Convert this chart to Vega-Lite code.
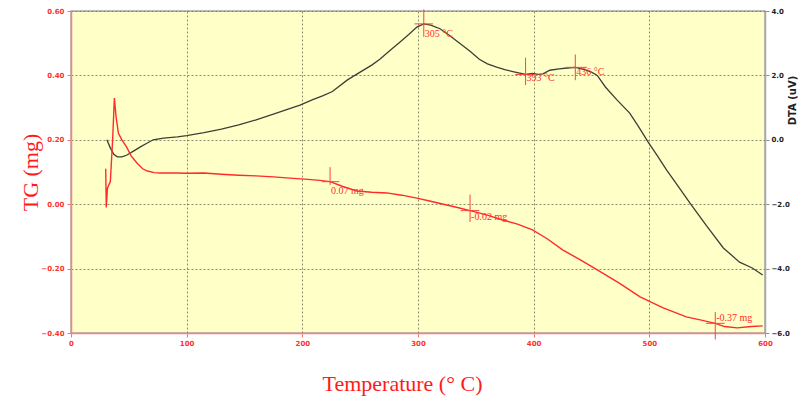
{
  "$schema": "https://vega.github.io/schema/vega-lite/v6.json",
  "autosize": {"type": "none"},
  "width": 694,
  "height": 322,
  "padding": {"left": 71, "top": 11, "right": 33, "bottom": 68},
  "background": "white",
  "config": {
    "view": {"fill": "#ffffc8", "stroke": "#a8a8a8", "strokeWidth": 1.5},
    "axis": {
      "labelFont": "DejaVu Sans", "labelFontSize": 7, "labelFontWeight": "bold",
      "tickSize": 4, "domainWidth": 1.5,
      "gridColor": "#6f6f5f", "gridDash": [2, 2], "gridOpacity": 0.8,
      "titleFontWeight": "normal"
    },
    "axisBottom": {
      "labelColor": "#ff3030", "tickColor": "#ff7070", "domainColor": "#ff8080",
      "labelPadding": 2, "labelFlush": false,
      "titleFont": "Liberation Serif", "titleFontSize": 22, "titleColor": "#ff1a1a",
      "titleX": 331, "titleY": 50, "titleBaseline": "middle"
    },
    "axisLeft": {
      "labelColor": "#ff3030", "tickColor": "#ff7070", "domainColor": "#ff8080",
      "labelPadding": 3,
      "titleFont": "Liberation Serif", "titleFontSize": 22, "titleColor": "#ff1a1a",
      "titleX": -41, "titleY": 161, "titleAlign": "center", "titleBaseline": "middle"
    },
    "axisRight": {
      "labelColor": "#222222", "tickColor": "#909090", "domainColor": "#a8a8a8",
      "labelPadding": 2,
      "titleFont": "DejaVu Sans", "titleFontSize": 10, "titleFontWeight": "bold", "titleColor": "#222222",
      "titleAngle": 270, "titleX": 27, "titleY": 89, "titleAlign": "center", "titleBaseline": "middle"
    }
  },
  "datasets": {
    "dta": [
      {"T": 31, "DTA": 0.0}, {"T": 34, "DTA": -0.25}, {"T": 37, "DTA": -0.45}, {"T": 40, "DTA": -0.53},
      {"T": 44, "DTA": -0.53}, {"T": 48, "DTA": -0.48}, {"T": 54, "DTA": -0.35}, {"T": 60, "DTA": -0.22},
      {"T": 66, "DTA": -0.1}, {"T": 71, "DTA": 0.0}, {"T": 80, "DTA": 0.05}, {"T": 92, "DTA": 0.09},
      {"T": 100, "DTA": 0.13}, {"T": 115, "DTA": 0.22}, {"T": 130, "DTA": 0.33}, {"T": 145, "DTA": 0.46},
      {"T": 160, "DTA": 0.62}, {"T": 175, "DTA": 0.8}, {"T": 189, "DTA": 0.97}, {"T": 198, "DTA": 1.08},
      {"T": 209, "DTA": 1.25}, {"T": 218, "DTA": 1.37}, {"T": 226, "DTA": 1.5}, {"T": 239, "DTA": 1.86},
      {"T": 250, "DTA": 2.1}, {"T": 260, "DTA": 2.32}, {"T": 267, "DTA": 2.5}, {"T": 275, "DTA": 2.75},
      {"T": 284, "DTA": 3.02}, {"T": 292, "DTA": 3.27}, {"T": 299, "DTA": 3.5}, {"T": 305, "DTA": 3.6},
      {"T": 311, "DTA": 3.56}, {"T": 319, "DTA": 3.45}, {"T": 327, "DTA": 3.25}, {"T": 336, "DTA": 3.0},
      {"T": 345, "DTA": 2.75}, {"T": 353, "DTA": 2.5}, {"T": 360, "DTA": 2.36}, {"T": 368, "DTA": 2.26},
      {"T": 375, "DTA": 2.18}, {"T": 382, "DTA": 2.12}, {"T": 388, "DTA": 2.07}, {"T": 393, "DTA": 2.03},
      {"T": 399, "DTA": 2.06}, {"T": 404, "DTA": 2.03}, {"T": 408, "DTA": 2.05}, {"T": 414, "DTA": 2.16},
      {"T": 422, "DTA": 2.2}, {"T": 429, "DTA": 2.23}, {"T": 436, "DTA": 2.25}, {"T": 444, "DTA": 2.18},
      {"T": 450, "DTA": 2.1}, {"T": 455, "DTA": 2.0}, {"T": 462, "DTA": 1.64}, {"T": 472, "DTA": 1.24},
      {"T": 483, "DTA": 0.83}, {"T": 490, "DTA": 0.45}, {"T": 499, "DTA": -0.07}, {"T": 507, "DTA": -0.5},
      {"T": 515, "DTA": -0.94}, {"T": 525, "DTA": -1.45}, {"T": 535, "DTA": -1.96}, {"T": 550, "DTA": -2.7},
      {"T": 564, "DTA": -3.36}, {"T": 578, "DTA": -3.8}, {"T": 589, "DTA": -3.98}, {"T": 598, "DTA": -4.2}
    ],
    "tg": [
      {"T": 30, "TG": 0.11}, {"T": 30.5, "TG": -0.01}, {"T": 31.5, "TG": 0.05}, {"T": 34, "TG": 0.07},
      {"T": 36, "TG": 0.2}, {"T": 37.5, "TG": 0.33}, {"T": 39, "TG": 0.27}, {"T": 41, "TG": 0.22},
      {"T": 44, "TG": 0.2}, {"T": 48, "TG": 0.178}, {"T": 52, "TG": 0.15}, {"T": 57, "TG": 0.128},
      {"T": 62, "TG": 0.11}, {"T": 66, "TG": 0.103}, {"T": 72, "TG": 0.098}, {"T": 77, "TG": 0.097},
      {"T": 92, "TG": 0.097}, {"T": 100, "TG": 0.096}, {"T": 115, "TG": 0.097}, {"T": 130, "TG": 0.093},
      {"T": 145, "TG": 0.09}, {"T": 160, "TG": 0.088}, {"T": 175, "TG": 0.085}, {"T": 189, "TG": 0.081},
      {"T": 205, "TG": 0.077}, {"T": 215, "TG": 0.074}, {"T": 224, "TG": 0.07}, {"T": 235, "TG": 0.055},
      {"T": 247, "TG": 0.041}, {"T": 260, "TG": 0.037}, {"T": 273, "TG": 0.035}, {"T": 286, "TG": 0.028},
      {"T": 299, "TG": 0.019}, {"T": 310, "TG": 0.01}, {"T": 322, "TG": 0.0}, {"T": 335, "TG": -0.011},
      {"T": 345, "TG": -0.02}, {"T": 360, "TG": -0.034}, {"T": 373, "TG": -0.049}, {"T": 386, "TG": -0.062},
      {"T": 399, "TG": -0.08}, {"T": 412, "TG": -0.108}, {"T": 425, "TG": -0.142}, {"T": 440, "TG": -0.172},
      {"T": 455, "TG": -0.204}, {"T": 474, "TG": -0.245}, {"T": 492, "TG": -0.288}, {"T": 512, "TG": -0.322},
      {"T": 532, "TG": -0.35}, {"T": 545, "TG": -0.36}, {"T": 557, "TG": -0.37}, {"T": 565, "TG": -0.38},
      {"T": 576, "TG": -0.384}, {"T": 588, "TG": -0.38}, {"T": 598, "TG": -0.378}
    ],
    "dtaTicks": [
      {"T": 305, "T2": 305, "DTA": 3.2, "DTA2": 4.05},
      {"T": 297, "T2": 313, "DTA": 3.6, "DTA2": 3.6},
      {"T": 393, "T2": 393, "DTA": 1.7, "DTA2": 2.55},
      {"T": 384, "T2": 401, "DTA": 2.03, "DTA2": 2.03},
      {"T": 436, "T2": 436, "DTA": 1.85, "DTA2": 2.65},
      {"T": 428, "T2": 446, "DTA": 2.25, "DTA2": 2.25}
    ],
    "dtaNotes": [
      {"T": 305, "DTA": 3.3, "label": "305 °C"},
      {"T": 393, "DTA": 1.93, "label": "393 °C"},
      {"T": 436, "DTA": 2.1, "label": "436 °C"}
    ],
    "tgTicks": [
      {"T": 224, "T2": 224, "TG": 0.06, "TG2": 0.115},
      {"T": 217, "T2": 232, "TG": 0.07, "TG2": 0.07},
      {"T": 345, "T2": 345, "TG": -0.055, "TG2": 0.03},
      {"T": 337, "T2": 353, "TG": -0.02, "TG2": -0.02},
      {"T": 557, "T2": 557, "TG": -0.42, "TG2": -0.335},
      {"T": 549, "T2": 565, "TG": -0.37, "TG2": -0.37}
    ],
    "tgNotes": [
      {"T": 224, "TG": 0.04, "label": "0.07 mg"},
      {"T": 345, "TG": -0.04, "label": "-0.02 mg"},
      {"T": 557, "TG": -0.352, "label": "-0.37 mg"}
    ]
  },
  "layer": [
    {
      "layer": [
        {
          "data": {"name": "dta"},
          "mark": {"type": "line", "color": "#3b4037", "strokeWidth": 1.3},
          "encoding": {
            "x": {"field": "T", "type": "quantitative", "scale": {"domain": [0, 600]},
                  "axis": {"values": [0, 100, 200, 300, 400, 500, 600], "format": "d", "title": "Temperature (° C)", "grid": true}},
            "y": {"field": "DTA", "type": "quantitative", "scale": {"domain": [-6, 4]},
                  "axis": {"orient": "right", "values": [-6, -4, -2, 0, 2, 4], "format": ".1f", "title": "DTA (uV)", "grid": false}}
          }
        },
        {
          "data": {"name": "dtaTicks"},
          "mark": {"type": "rule", "color": "#ff4040", "strokeWidth": 1},
          "encoding": {
            "x": {"field": "T", "type": "quantitative", "scale": {"domain": [0, 600]},
                  "axis": {"values": [0, 100, 200, 300, 400, 500, 600], "format": "d", "title": "Temperature (° C)", "grid": true}},
            "x2": {"field": "T2"},
            "y": {"field": "DTA", "type": "quantitative", "scale": {"domain": [-6, 4]},
                  "axis": {"orient": "right", "values": [-6, -4, -2, 0, 2, 4], "format": ".1f", "title": "DTA (uV)", "grid": false}},
            "y2": {"field": "DTA2"}
          }
        },
        {
          "data": {"name": "dtaNotes"},
          "mark": {"type": "text", "color": "#ff3030", "font": "Liberation Serif", "fontSize": 10, "align": "left", "baseline": "middle", "dx": 1},
          "encoding": {
            "x": {"field": "T", "type": "quantitative", "scale": {"domain": [0, 600]},
                  "axis": {"values": [0, 100, 200, 300, 400, 500, 600], "format": "d", "title": "Temperature (° C)", "grid": true}},
            "y": {"field": "DTA", "type": "quantitative", "scale": {"domain": [-6, 4]},
                  "axis": {"orient": "right", "values": [-6, -4, -2, 0, 2, 4], "format": ".1f", "title": "DTA (uV)", "grid": false}},
            "text": {"field": "label"}
          }
        }
      ]
    },
    {
      "layer": [
        {
          "data": {"name": "tg"},
          "mark": {"type": "line", "color": "#ff2a2a", "strokeWidth": 1.4},
          "encoding": {
            "x": {"field": "T", "type": "quantitative", "scale": {"domain": [0, 600]},
                  "axis": {"values": [0, 100, 200, 300, 400, 500, 600], "format": "d", "title": "Temperature (° C)", "grid": true}},
            "y": {"field": "TG", "type": "quantitative", "scale": {"domain": [-0.4, 0.6]},
                  "axis": {"orient": "left", "values": [-0.4, -0.2, 0, 0.2, 0.4, 0.6], "format": ".2f", "title": "TG (mg)", "grid": true}}
          }
        },
        {
          "data": {"name": "tgTicks"},
          "mark": {"type": "rule", "color": "#ff4040", "strokeWidth": 1},
          "encoding": {
            "x": {"field": "T", "type": "quantitative", "scale": {"domain": [0, 600]},
                  "axis": {"values": [0, 100, 200, 300, 400, 500, 600], "format": "d", "title": "Temperature (° C)", "grid": true}},
            "x2": {"field": "T2"},
            "y": {"field": "TG", "type": "quantitative", "scale": {"domain": [-0.4, 0.6]},
                  "axis": {"orient": "left", "values": [-0.4, -0.2, 0, 0.2, 0.4, 0.6], "format": ".2f", "title": "TG (mg)", "grid": true}},
            "y2": {"field": "TG2"}
          }
        },
        {
          "data": {"name": "tgNotes"},
          "mark": {"type": "text", "color": "#ff3030", "font": "Liberation Serif", "fontSize": 10, "align": "left", "baseline": "middle", "dx": 1},
          "encoding": {
            "x": {"field": "T", "type": "quantitative", "scale": {"domain": [0, 600]},
                  "axis": {"values": [0, 100, 200, 300, 400, 500, 600], "format": "d", "title": "Temperature (° C)", "grid": true}},
            "y": {"field": "TG", "type": "quantitative", "scale": {"domain": [-0.4, 0.6]},
                  "axis": {"orient": "left", "values": [-0.4, -0.2, 0, 0.2, 0.4, 0.6], "format": ".2f", "title": "TG (mg)", "grid": true}},
            "text": {"field": "label"}
          }
        }
      ]
    }
  ],
  "resolve": {"scale": {"y": "independent"}, "axis": {"y": "independent"}}
}
